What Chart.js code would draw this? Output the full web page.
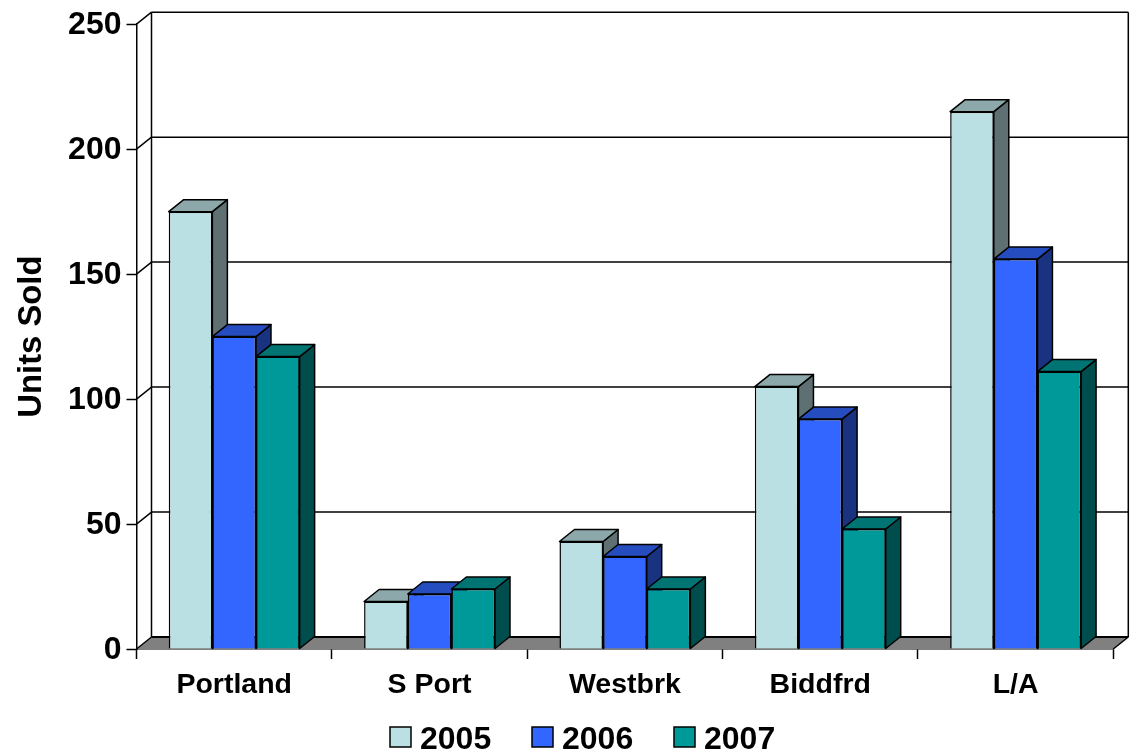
<!DOCTYPE html>
<html>
<head>
<meta charset="utf-8">
<title>Units Sold</title>
<script src="https://cdn.jsdelivr.net/npm/chart.js@4/dist/chart.umd.min.js"></script>
<style>
  html, body { margin: 0; padding: 0; background: #fff; }
  #wrap { width: 1134px; height: 752px; }
</style>
</head>
<body>
<div id="wrap"><canvas id="myChart" width="1134" height="752"></canvas></div>
<script>
const categories = ['Portland', 'S Port', 'Westbrk', 'Biddfrd', 'L/A'];
const years = ['2005', '2006', '2007'];
const units2005 = [175, 19, 43, 105, 215];
const units2006 = [125, 22, 37, 92, 156];
const units2007 = [117, 24, 24, 48, 111];
const frontColors = ['#BBE0E3', '#3366FF', '#009999'];
const topColors = ['#8CA8AA', '#264DBF', '#007373'];
const sideColors = ['#5E7071', '#1A3380', '#004D4D'];

const FONT = '"Liberation Sans", Arial, sans-serif';
const DEPTH_X = 15;
const DEPTH_Y = 12;

function poly(ctx, pts, fill, stroke, lw) {
  ctx.beginPath();
  pts.forEach((p, i) => i ? ctx.lineTo(p[0], p[1]) : ctx.moveTo(p[0], p[1]));
  ctx.closePath();
  if (fill) { ctx.fillStyle = fill; ctx.fill(); }
  if (stroke) { ctx.strokeStyle = stroke; ctx.lineWidth = lw; ctx.stroke(); }
}

function line(ctx, x1, y1, x2, y2, lw) {
  ctx.beginPath();
  ctx.moveTo(x1, y1);
  ctx.lineTo(x2, y2);
  ctx.strokeStyle = '#000';
  ctx.lineWidth = lw;
  ctx.stroke();
}

// back wall, floor and the top and side faces of the bars
const box3d = {
  id: 'box3d',
  beforeDatasetsDraw(chart) {
    const ctx = chart.ctx;
    const a = chart.chartArea;
    const y = chart.scales.y;
    ctx.save();
    ctx.lineJoin = 'round';

    poly(ctx, [[a.left, a.bottom], [a.left + DEPTH_X, a.bottom - DEPTH_Y],
      [a.right + DEPTH_X, a.bottom - DEPTH_Y], [a.right, a.bottom]], '#808080');

    y.ticks.forEach(t => {
      const py = y.getPixelForValue(t.value);
      line(ctx, a.left + DEPTH_X, py - DEPTH_Y, a.right + DEPTH_X, py - DEPTH_Y, t.value === 0 ? 2.2 : 1.5);
      line(ctx, a.left, py, a.left + DEPTH_X, py - DEPTH_Y, 1.5);
    });
    line(ctx, a.left + DEPTH_X, a.top - DEPTH_Y, a.left + DEPTH_X, a.bottom - DEPTH_Y, 1.5);
    line(ctx, a.right + DEPTH_X, a.top - DEPTH_Y, a.right + DEPTH_X, a.bottom - DEPTH_Y, 1.5);
    line(ctx, a.right, a.bottom, a.right + DEPTH_X, a.bottom - DEPTH_Y, 1.5);

    chart.data.datasets.forEach((ds, i) => {
      chart.getDatasetMeta(i).data.forEach(bar => {
        const l = bar.x - bar.width / 2;
        const r = bar.x + bar.width / 2;
        const t = bar.y;
        const b = bar.base;
        poly(ctx, [[r, t], [r + DEPTH_X, t - DEPTH_Y], [r + DEPTH_X, b - DEPTH_Y], [r, b]], sideColors[i], '#000', 1.5);
        poly(ctx, [[l, t], [l + DEPTH_X, t - DEPTH_Y], [r + DEPTH_X, t - DEPTH_Y], [r, t]], topColors[i], '#000', 1.5);
      });
    });
    ctx.restore();
  },
  // legend row under the axis
  afterDraw(chart) {
    const ctx = chart.ctx;
    ctx.save();
    ctx.font = 'bold 32px ' + FONT;
    ctx.textBaseline = 'alphabetic';
    ctx.textAlign = 'left';
    chart.data.datasets.forEach((ds, i) => {
      const x = 390 + i * 142;
      ctx.fillStyle = frontColors[i];
      ctx.strokeStyle = '#000';
      ctx.lineWidth = 1.5;
      ctx.fillRect(x, 727, 21, 20);
      ctx.strokeRect(x, 727, 21, 20);
      ctx.fillStyle = '#000';
      ctx.fillText(ds.label, x + 30, 749);
    });
    ctx.restore();
  }
};

new Chart(document.getElementById('myChart'), {
  type: 'bar',
  data: {
    labels: categories,
    datasets: [
      { label: years[0], data: units2005, backgroundColor: frontColors[0] },
      { label: years[1], data: units2006, backgroundColor: frontColors[1] },
      { label: years[2], data: units2007, backgroundColor: frontColors[2] }
    ]
  },
  options: {
    responsive: false,
    animation: false,
    layout: { padding: { top: 23.3, right: 20.7, bottom: 0, left: 0 } },
    datasets: {
      bar: { categoryPercentage: 0.67, barPercentage: 1, borderColor: '#000', borderWidth: 1.5 }
    },
    plugins: {
      title: { display: false },
      tooltip: { enabled: false },
      legend: { display: false }
    },
    scales: {
      x: {
        afterFit(scale) { scale.height = 103; },
        border: { display: true, color: '#000', width: 1.5 },
        grid: { display: true, drawOnChartArea: false, drawTicks: true, tickLength: 10, tickColor: '#000', tickWidth: 1.5, offset: true },
        ticks: { color: '#000', padding: 9, maxRotation: 0, font: { family: FONT, size: 28.5, weight: 'bold' } }
      },
      y: {
        min: 0,
        max: 250,
        afterFit(scale) { scale.width = 136.5; },
        border: { display: true, color: '#000', width: 1.5 },
        grid: { display: true, drawOnChartArea: false, drawTicks: true, tickLength: 10, tickColor: '#000', tickWidth: 1.5 },
        ticks: { stepSize: 50, color: '#000', padding: 5, labelOffset: 1, font: { family: FONT, size: 32, weight: 'bold' } },
        title: { display: true, text: 'Units Sold', color: '#000', padding: { top: 12.5, bottom: 0 }, font: { family: FONT, size: 32.8, weight: 'bold' } }
      }
    }
  },
  plugins: [box3d]
});
</script>
</body>
</html>
